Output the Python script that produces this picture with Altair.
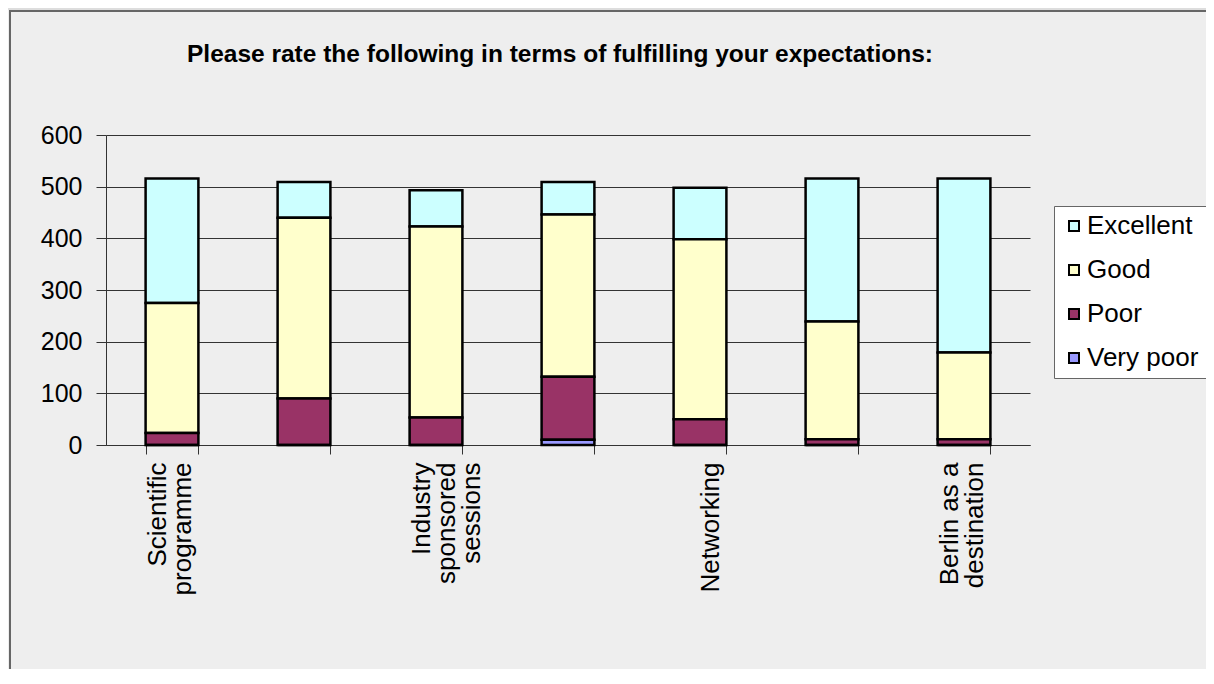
import altair as alt
import pandas as pd

title_text = "Please rate the following in terms of fulfilling your expectations:"
categories = ["Scientific\nprogramme", " ", "Industry\nsponsored\nsessions", "  ",
              "Networking", "   ", "Berlin as a\ndestination"]
ratings = ["Excellent", "Good", "Poor", "Very poor"]
very_poor = [0, 0, 0, 10, 0, 0, 0]
poor = [23, 90, 53, 122, 50, 11, 11]
good = [252, 350, 370, 314, 348, 228, 168]
excellent = [241, 69, 70, 63, 100, 277, 337]
colors = ["#CCFFFF", "#FFFFCC", "#993366", "#9999FF"]
stack_rank = {"Very poor": 0, "Poor": 1, "Good": 2, "Excellent": 3}

rows = []
for i, c in enumerate(categories):
    for r, vals in zip(ratings, [excellent, good, poor, very_poor]):
        rows.append({"category": c, "rating": r, "count": vals[i], "rank": stack_rank[r]})
df = pd.DataFrame(rows)

FONT = "Liberation Sans"
FS = 26

# single-line labels get a leading blank line so that every label block sits like the original
label_expr = ("indexof(datum.label, '\\n') < 0 ? ['', datum.label] : split(datum.label, '\\n')")

bars = alt.Chart(df).mark_bar(stroke="black", strokeWidth=2.5).encode(
    x=alt.X("category:N", sort=categories,
            scale=alt.Scale(paddingInner=0.6, paddingOuter=0.3),
            axis=alt.Axis(title=None, labelAngle=-90, tickBand="extent",
                          labelExpr=label_expr,
                          labelFontSize=FS, labelColor="black", labelFont=FONT,
                          labelPadding=8, tickSize=9, tickColor="#333",
                          labelOffset=-15,
                          domainColor="#333", grid=False, labelLineHeight=25)),
    y=alt.Y("count:Q", stack="zero",
            scale=alt.Scale(domain=[0, 600]),
            axis=alt.Axis(title=None, values=[0, 100, 200, 300, 400, 500, 600],
                          labelFontSize=25, labelColor="black", labelFont=FONT,
                          tickSize=10, labelPadding=14, tickColor="#333",
                          domainColor="#333", gridColor="#333", gridOpacity=1)),
    color=alt.Color("rating:N", scale=alt.Scale(domain=ratings, range=colors),
                    legend=alt.Legend(title=None, orient="none", legendX=948, legendY=71,
                                      symbolType="square", symbolSize=100,
                                      symbolStrokeColor="black", symbolStrokeWidth=2,
                                      labelFontSize=FS, labelFont=FONT, labelColor="black",
                                      fillColor="white", strokeColor="#666",
                                      padding=7, rowPadding=18, labelOffset=0)),
    order=alt.Order("rank:Q", sort="ascending"),
)

deco = alt.Data(values=[{"a": 1}])

frame = alt.Chart(deco).mark_rect(
    fillOpacity=0, stroke="#666", strokeWidth=2, clip=False
).encode(x=alt.value(-96), x2=alt.value(1200), y=alt.value(-124), y2=alt.value(700))

top_strip = alt.Chart(deco).mark_rect(fill="#DDDDDD", clip=False).encode(
    x=alt.value(-98), x2=alt.value(1200), y=alt.value(-130), y2=alt.value(-125))

title = alt.Chart(deco).mark_text(
    text=title_text, font=FONT, fontSize=24.5, fontWeight="bold", color="black",
    align="center", baseline="alphabetic", clip=False
).encode(x=alt.value(454), y=alt.value(-73))

chart = alt.layer(top_strip, frame, bars, title).properties(
    width=924, height=310,
    autosize=alt.AutoSizeParams(type="none"),
    padding={"left": 98, "top": 127, "right": 176, "bottom": 224},
    background="#EEEEEE",
).configure_view(stroke=None)

chart.save("out.html", embed_options={"renderer": "svg", "actions": False})
